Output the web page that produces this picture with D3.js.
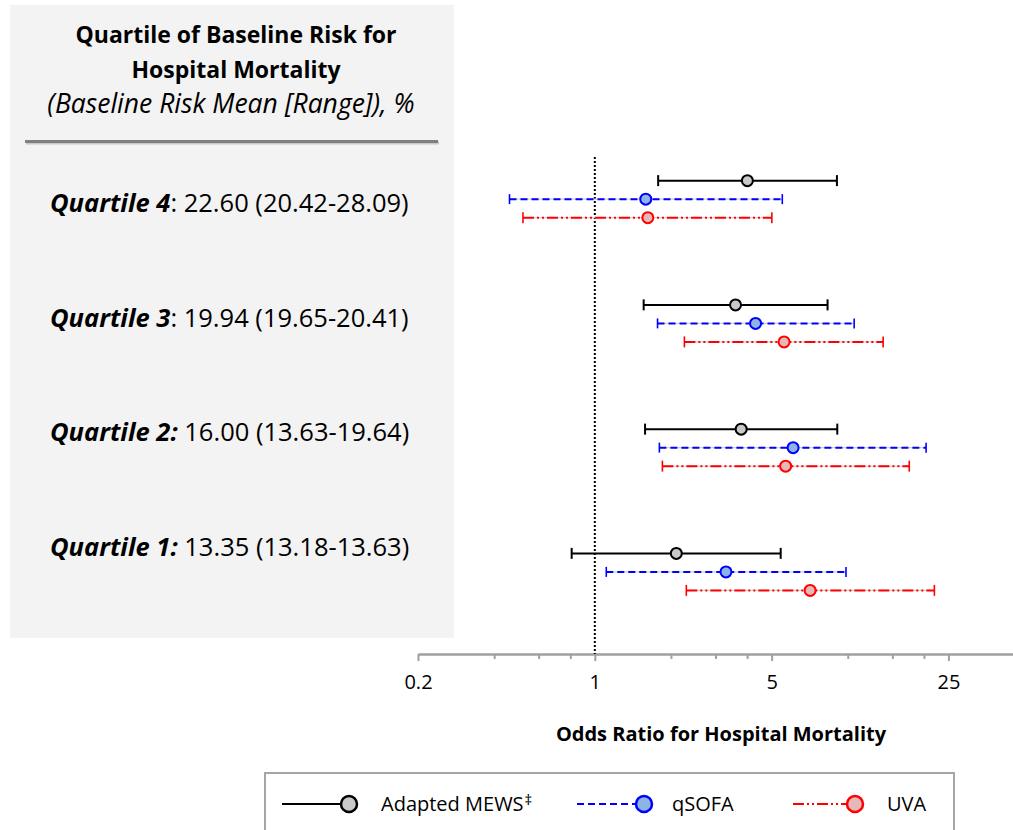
<!DOCTYPE html>
<html>
<head>
<meta charset="utf-8">
<script src="https://cdn.jsdelivr.net/npm/d3@7"></script>
<style>
  body { margin: 0; background: #fff; }
  svg text { font-family: "Open Sans", "Noto Sans", sans-serif; }
</style>
</head>
<body>
<div id="svg-container"></div>
<script>
// quartile rows, top to bottom
const quartiles = ["Quartile 4", "Quartile 3", "Quartile 2", "Quartile 1"];
const baselineMean = ["22.60", "19.94", "16.00", "13.35"];
const baselineRange = ["20.42-28.09", "19.65-20.41", "13.63-19.64", "13.18-13.63"];
const boldColon = [false, false, true, true];

const seriesNames = ["Adapted MEWS", "qSOFA", "UVA"];
const seriesMarks = ["\u2021", "", ""];

// odds ratios and 95% CI
const mewsOR = [4.01, 3.60, 3.79, 2.10];
const mewsLo = [1.78, 1.56, 1.58, 0.81];
const mewsHi = [9.06, 8.32, 9.09, 5.43];

const qsofaOR = [1.59, 4.32, 6.08, 3.30];
const qsofaLo = [0.46, 1.77, 1.80, 1.11];
const qsofaHi = [5.51, 10.6, 20.4, 9.84];

const uvaOR = [1.62, 5.60, 5.68, 7.10];
const uvaLo = [0.52, 2.26, 1.85, 2.30];
const uvaHi = [5.01, 13.8, 17.5, 22.0];

const majorTicks = [0.2, 1, 5, 25];
const minorTicks = [0.4, 0.6, 0.8, 2, 3, 4, 10, 15, 20];

// style per series
const config = [
    { name: seriesNames[0], mark: seriesMarks[0], or: mewsOR, lo: mewsLo, hi: mewsHi, color: "#000000", fill: "#c9c9c9", dash: null, capW: 2, cap: 5.5 },
    { name: seriesNames[1], mark: seriesMarks[1], or: qsofaOR, lo: qsofaLo, hi: qsofaHi, color: "#0000ff", fill: "#8eb4e3", dash: "7,4", capW: 1.6, cap: 5 },
    { name: seriesNames[2], mark: seriesMarks[2], or: uvaOR, lo: uvaLo, hi: uvaHi, color: "#ff0000", fill: "#e6b9b8", dash: "11,3,2,3,2,3", capW: 1.6, cap: 5.5 }
];

const rows = [];
config.forEach(s => {
    quartiles.forEach((q, i) => {
        rows.push({ series: s.name, quartile: q, or: s.or[i], lo: s.lo[i], hi: s.hi[i], cfg: s });
    });
});

const svg = d3.select("#svg-container")
    .append("svg")
    .attr("width", 1013)
    .attr("height", 830);

// scales
const x = d3.scaleLog()
    .domain([0.2, 45])
    .range([418, 1013]);

const yGroup = d3.scaleBand()
    .domain(quartiles)
    .range([137, 634]);

const yInner = d3.scalePoint()
    .domain(seriesNames)
    .range([-18.5, 18.5]);

const yLabel = d3.scalePoint()
    .domain(quartiles)
    .range([203, 547]);

// left panel
svg.append("rect")
    .attr("x", 10)
    .attr("y", 5)
    .attr("width", 444)
    .attr("height", 633)
    .attr("fill", "#f3f3f3");

const titleLines = ["Quartile of Baseline Risk for", "Hospital Mortality"];
svg.selectAll("text.title")
    .data(titleLines)
    .enter()
    .append("text")
    .attr("class", "title")
    .attr("x", 236)
    .attr("y", (d, i) => 43 + i * 35)
    .attr("text-anchor", "middle")
    .attr("font-size", "23px")
    .attr("font-weight", "bold")
    .attr("fill", "#000")
    .text(d => d);

svg.append("text")
    .attr("x", 231)
    .attr("y", 113)
    .attr("text-anchor", "middle")
    .attr("font-size", "26.5px")
    .attr("font-style", "italic")
    .attr("fill", "#000")
    .text("(Baseline Risk Mean [Range]), %");

// separator with a soft shadow
svg.append("line")
    .attr("x1", 26).attr("x2", 439)
    .attr("y1", 143).attr("y2", 143)
    .attr("stroke", "#c8c8c8")
    .attr("stroke-width", 3);
svg.append("line")
    .attr("x1", 25).attr("x2", 438)
    .attr("y1", 141.5).attr("y2", 141.5)
    .attr("stroke", "#7f7f7f")
    .attr("stroke-width", 3);

const labels = svg.selectAll("text.qlabel")
    .data(quartiles)
    .enter()
    .append("text")
    .attr("class", "qlabel")
    .attr("x", 50)
    .attr("y", d => yLabel(d) + 9)
    .attr("font-size", "25.5px")
    .attr("fill", "#000");

labels.append("tspan")
    .attr("font-weight", "bold")
    .attr("font-style", "italic")
    .text((d, i) => boldColon[i] ? d + ":" : d);

labels.append("tspan")
    .text((d, i) => (boldColon[i] ? " " : ": ") + baselineMean[i] + " (" + baselineRange[i] + ")");

// axis
const axisY = 654;

const minorAxis = svg.append("g")
    .attr("transform", `translate(0, ${axisY})`)
    .call(d3.axisBottom(x).tickValues(minorTicks).tickSize(5).tickSizeOuter(0).tickFormat(""));

const majorAxis = svg.append("g")
    .attr("transform", `translate(0, ${axisY})`)
    .call(d3.axisBottom(x).tickValues(majorTicks).tickSize(7).tickSizeOuter(0).tickPadding(14)
        .tickFormat(d => String(d)));

[minorAxis, majorAxis].forEach(g => {
    g.select(".domain").attr("stroke", "#a0a0a0").attr("stroke-width", 2);
    g.selectAll(".tick line").attr("stroke", "#a0a0a0").attr("stroke-width", 2);
});
majorAxis.selectAll(".tick text")
    .attr("font-size", "20px")
    .attr("font-family", "'Open Sans', sans-serif")
    .attr("fill", "#000");

svg.append("text")
    .attr("x", 721)
    .attr("y", 741)
    .attr("text-anchor", "middle")
    .attr("font-size", "20px")
    .attr("font-weight", "bold")
    .attr("fill", "#000")
    .text("Odds Ratio for Hospital Mortality");

// reference line at OR = 1
svg.append("line")
    .attr("x1", x(1)).attr("x2", x(1))
    .attr("y1", 157).attr("y2", axisY)
    .attr("stroke", "#000")
    .attr("stroke-width", 2)
    .attr("stroke-dasharray", "2,2");

// error bars
const bars = svg.selectAll("g.bar")
    .data(rows)
    .enter()
    .append("g")
    .attr("class", "bar")
    .attr("transform", d => `translate(0, ${yGroup(d.quartile) + yGroup.bandwidth() / 2 + yInner(d.series)})`);

// faint grey line under the dashed styles
bars.filter(d => d.cfg.dash)
    .append("line")
    .attr("x1", d => x(d.lo)).attr("x2", d => x(d.hi))
    .attr("stroke", "#cfcfcf")
    .attr("stroke-width", 1.2);

bars.append("line")
    .attr("x1", d => x(d.lo)).attr("x2", d => x(d.hi))
    .attr("stroke", d => d.cfg.color)
    .attr("stroke-width", 2)
    .attr("stroke-dasharray", d => d.cfg.dash);

["lo", "hi"].forEach(k => {
    bars.append("line")
        .attr("x1", d => x(d[k])).attr("x2", d => x(d[k]))
        .attr("y1", d => -d.cfg.cap).attr("y2", d => d.cfg.cap)
        .attr("stroke", d => d.cfg.color)
        .attr("stroke-width", d => d.cfg.capW);
});

bars.append("circle")
    .attr("cx", d => x(d.or))
    .attr("r", 5.5)
    .attr("fill", d => d.cfg.fill)
    .attr("stroke", d => d.cfg.color)
    .attr("stroke-width", 2);

// legend
const legend = svg.append("g");
legend.append("rect")
    .attr("x", 265)
    .attr("y", 773)
    .attr("width", 689)
    .attr("height", 80)
    .attr("fill", "#fff")
    .attr("stroke", "#a6a6a6")
    .attr("stroke-width", 2);

const legendPos = [
    { x0: 282, cx: 349, tx: 381 },
    { x0: 577, cx: 644, tx: 672 },
    { x0: 793, cx: 855, tx: 887 }
];

const legendItems = legend.selectAll("g.legend-item")
    .data(config)
    .enter()
    .append("g")
    .attr("class", "legend-item")
    .attr("transform", "translate(0, 804)");

legendItems.append("line")
    .attr("x1", (d, i) => legendPos[i].x0)
    .attr("x2", (d, i) => legendPos[i].cx - 8)
    .attr("stroke", d => d.color)
    .attr("stroke-width", 2)
    .attr("stroke-dasharray", d => d.dash);

legendItems.append("circle")
    .attr("cx", (d, i) => legendPos[i].cx)
    .attr("r", 8)
    .attr("fill", d => d.fill)
    .attr("stroke", d => d.color)
    .attr("stroke-width", 2.5);

const legendText = legendItems.append("text")
    .attr("x", (d, i) => legendPos[i].tx)
    .attr("y", 7)
    .attr("font-size", "20px")
    .attr("fill", "#000");

legendText.append("tspan").text(d => d.name);
legendText.append("tspan")
    .attr("font-size", "15px")
    .attr("dy", -6)
    .attr("dx", 1)
    .text(d => d.mark);
</script>
</body>
</html>
